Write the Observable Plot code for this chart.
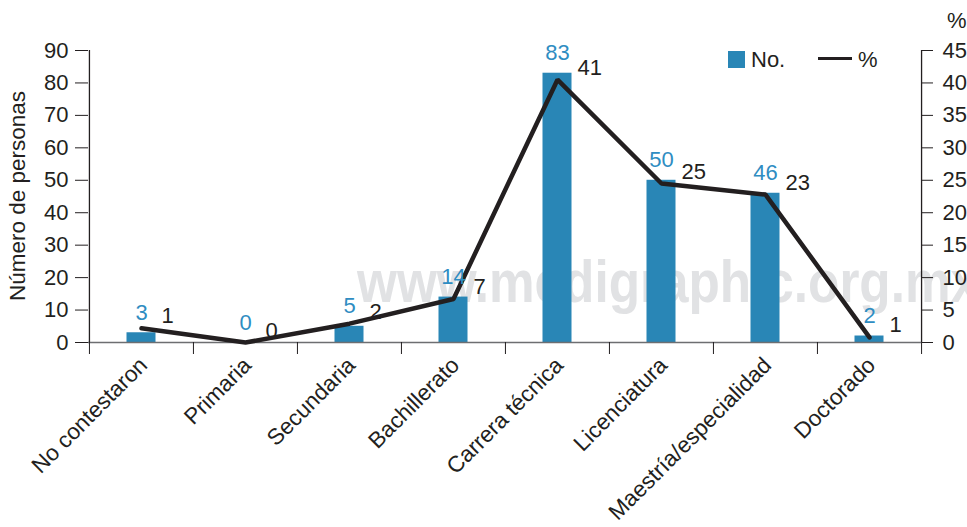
<!DOCTYPE html>
<html>
<head>
<meta charset="utf-8">
<script src="https://cdn.jsdelivr.net/npm/d3@7"></script>
<script src="https://cdn.jsdelivr.net/npm/@observablehq/plot@0.6"></script>
<style>
  body { margin: 0; background: #fff; }
  #wrap { position: relative; width: 967px; height: 527px; overflow: hidden; font-family: "Liberation Sans", Arial, Helvetica, sans-serif; color: #231f20; }
  #wm, #chart { position: absolute; left: 0; top: 0; }
  .lg { position: absolute; font-size: 22px; line-height: 1; white-space: nowrap; }
  #ylab { position: absolute; left: 18px; top: 196px; font-size: 22.5px; line-height: 1; white-space: nowrap; transform: translate(-50%, -50%) rotate(-90deg); }
</style>
</head>
<body>
<div id="wrap">
  <svg id="wm" width="967" height="527">
    <text x="357" y="302" font-size="60" font-weight="bold" fill="#e1e2e4" textLength="622" lengthAdjust="spacingAndGlyphs" font-family="Liberation Sans, Arial, sans-serif">www.medigraphic.org.mx</text>
  </svg>
  <div id="chart"></div>
  <div id="ylab">Número de personas</div>
  <div class="lg" style="left:728px;top:51px;width:17px;height:17px;background:#2986b6;"></div>
  <div class="lg" style="left:751px;top:49px;">No.</div>
  <div class="lg" style="left:818px;top:57px;width:34px;height:3px;background:#231f20;"></div>
  <div class="lg" style="left:858px;top:49px;">%</div>
  <div class="lg" style="left:947px;top:10px;">%</div>
</div>
<script>
const categories = ["No contestaron", "Primaria", "Secundaria", "Bachillerato", "Carrera técnica", "Licenciatura", "Maestría/especialidad", "Doctorado"];
const counts = [3, 0, 5, 14, 83, 50, 46, 2];
const percents = [2.2, 0, 2.9, 6.7, 40.5, 24.5, 22.8, 0.8];
const percentLabels = ["1", "0", "2", "7", "41", "25", "23", "1"];
const leftTicks = [0, 10, 20, 30, 40, 50, 60, 70, 80, 90];
const rightTicks = [0, 5, 10, 15, 20, 25, 30, 35, 40, 45];

const rows = categories.map((c, i) => ({category: c, count: counts[i], pct: percents[i], pctLabel: percentLabels[i]}));

const W = 967, H = 527, ML = 88, MR = 46, MT = 50, MB = 185;
const bw = (W - ML - MR) / categories.length;
const BAR = "#2986b6", LABEL_BLUE = "#2f8dc2", INK = "#231f20", GRAY = "#6d6e71";

const chart = Plot.plot({
  width: W, height: H,
  marginLeft: ML, marginRight: MR, marginTop: MT, marginBottom: MB,
  style: {fontFamily: "Liberation Sans, Arial, Helvetica, sans-serif", fontSize: "22px", color: INK, background: "transparent", overflow: "visible"},
  x: {domain: categories, padding: 0, axis: null},
  y: {domain: [0, 90], axis: null},
  marks: [
    Plot.barY(rows, {x: "category", y: "count", fill: BAR, insetLeft: 37.5, insetRight: 37.5}),
    Plot.ruleY([0], {stroke: GRAY, strokeWidth: 1.5}),
    Plot.ruleX([categories[0]], {dx: -bw / 2, stroke: INK, strokeWidth: 1.3}),
    Plot.ruleX([categories[categories.length - 1]], {dx: bw / 2, stroke: INK, strokeWidth: 1.3}),
    Plot.axisX({ticks: categories, tickSize: 12, tickFormat: () => "", dx: -bw / 2, stroke: INK, label: null}),
    Plot.axisX({ticks: [categories[categories.length - 1]], tickSize: 12, tickFormat: () => "", dx: bw / 2, stroke: INK, label: null}),
    Plot.axisX({ticks: categories, tickSize: 0, tickPadding: 19, tickRotate: -45, dx: 2, fontSize: 22.5, label: null}),
    Plot.line(rows, {x: "category", y: d => d.pct * 2, stroke: INK, strokeWidth: 4.5, strokeLinejoin: "miter"}),
    Plot.text(rows, {x: "category", y: "count", text: d => String(d.count), fill: LABEL_BLUE, lineAnchor: "bottom", dy: -13}),
    Plot.text(rows, {x: "category", y: d => d.pct * 2, text: "pctLabel", fill: INK, textAnchor: "start", dx: 20, dy: -12}),
    Plot.axisY({anchor: "left", ticks: leftTicks, tickSize: 13, tickPadding: 7, stroke: INK, label: null}),
    Plot.axisY({anchor: "right", ticks: rightTicks.map(v => v * 2), tickFormat: d => String(d / 2), tickSize: 11, tickPadding: 10, stroke: INK, label: null})
  ]
});
document.getElementById("chart").appendChild(chart);
</script>
</body>
</html>
